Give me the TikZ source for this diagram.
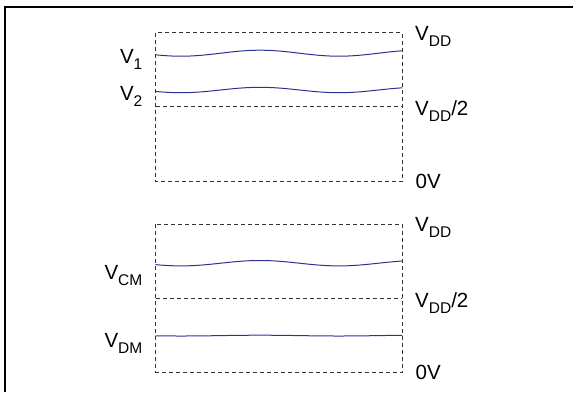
\documentclass[tikz,border=0pt]{standalone}
\usepackage{fontspec}
\setmainfont{Liberation Sans}
\definecolor{wavecol}{RGB}{46,49,146}
\definecolor{dashgray}{RGB}{51,51,51}
\newcommand\lowsub[1]{\raisebox{-6pt}{\fontsize{15.5}{15.5}\selectfont #1}}
\begin{document}
\begin{tikzpicture}[x=1pt,y=-1pt,
  frame/.style={line width=1.8pt},
  guide/.style={draw=dashgray, dash pattern=on 4pt off 3pt, line width=1.1pt},
  sig/.style={draw=wavecol, line width=1pt},
  lbl/.style={inner sep=0pt, font=\fontsize{20.5}{20.5}\selectfont}]
\useasboundingbox (0,0) rectangle (573,392);
% outer frame
\draw[frame] (573,7.3) -- (4.8,7.3) -- (4.8,392);
% upper panel
\draw[guide] (155.5,32.7) rectangle (402.3,181.3);
\draw[guide] (155.5,106.7) -- (402.3,106.7);
\draw[sig] plot[domain=155.5:402.3, samples=80, smooth] (\x, {53.2 - 3*cos(2.2785*(\x-260))});
\draw[sig] plot[domain=155.5:402.3, samples=80, smooth] (\x, {90 - 2.7*cos(2.2785*(\x-260))});
\node[lbl, anchor=base east] (v1) at (142.5,63) {V\lowsub{1}};
\node[lbl, anchor=base east] (v2) at (142.5,100) {V\lowsub{2}};
\node[lbl, anchor=base west] (vddA) at (415,40.2) {V\lowsub{DD}};
\node[lbl, anchor=base west] (vddhA) at (415,115.5) {V\lowsub{DD}/2};
\node[lbl, anchor=base west] (zeroA) at (415.5,188.3) {0V};
% lower panel
\draw[guide] (155.5,224.3) rectangle (402.3,372.3);
\draw[guide] (155.5,298.7) -- (402.3,298.7);
\draw[sig] plot[domain=155.5:402.3, samples=80, smooth] (\x, {263.2 - 2.7*cos(2.2785*(\x-260))});
\draw[sig] plot[domain=155.5:402.3, samples=80, smooth] (\x, {335.6 - 0.4*cos(2.2785*(\x-260))});
\node[lbl, anchor=base east] (vcm) at (142.5,279) {V\lowsub{CM}};
\node[lbl, anchor=base east] (vdm) at (142.5,347) {V\lowsub{DM}};
\node[lbl, anchor=base west] (vddB) at (415,231.8) {V\lowsub{DD}};
\node[lbl, anchor=base west] (vddhB) at (415,307.2) {V\lowsub{DD}/2};
\node[lbl, anchor=base west] (zeroB) at (415.5,379.3) {0V};
\end{tikzpicture}
\end{document}
